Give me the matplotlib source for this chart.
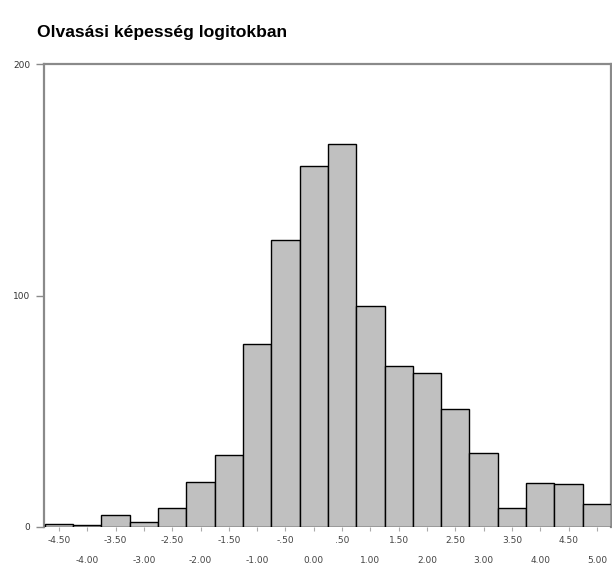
import matplotlib
matplotlib.use("Agg")
import matplotlib.pyplot as plt
import numpy as np

bin_centers = [-4.5, -4.0, -3.5, -3.0, -2.5, -2.0, -1.5, -1.0, -0.5, 0.0,
               0.5, 1.0, 1.5, 2.0, 2.5, 3.0, 3.5, 4.0, 4.5, 5.0]
counts = [1.3, 0.7, 5, 2, 8, 19.5, 31, 79, 124, 156,
          165.5, 95.5, 69.5, 66.5, 51, 32, 8, 19, 18.6, 10]
top_labels = ["-4.50", "-3.50", "-2.50", "-1.50", "-.50", ".50", "1.50", "2.50", "3.50", "4.50"]
bottom_labels = ["-4.00", "-3.00", "-2.00", "-1.00", "0.00", "1.00", "2.00", "3.00", "4.00", "5.00"]
y_ticks = [0, 100, 200]
y_ticklabels = ["0", "100", "200"]
title = "Olvasási képesség logitokban"

fig = plt.figure(figsize=(6.12, 5.69), dpi=100)
ax = fig.add_axes([44/612, 1-527/569, (611-44)/612, (527-64)/569])

ax.bar(bin_centers, counts, width=0.5, color="#c0c0c0", edgecolor="black",
       linewidth=1.0, zorder=3)
ax.set_xlim(-4.765, 5.25)
ax.set_ylim(0, 200)

for s in ["left", "top", "right"]:
    ax.spines[s].set_color("#8a8a8a")
    ax.spines[s].set_linewidth(1.6)
ax.spines["bottom"].set_visible(False)

ax.set_yticks(y_ticks)
ax.set_yticklabels(y_ticklabels, fontsize=6.5, color="#333333")
ax.tick_params(axis="y", length=6, width=1, color="#8a8a8a", pad=4)

ax.set_xticks(bin_centers)
ax.set_xticklabels([])
ax.tick_params(axis="x", length=3, width=0.8, color="#aaaaaa")

# two-row alternating labels
for i, x in enumerate(bin_centers):
    if i % 2 == 0:
        ax.text(x, -4, top_labels[i // 2], ha="center", va="top",
                fontsize=6.5, color="#444444", transform=ax.transData, clip_on=False)
    else:
        ax.text(x, -12.5, bottom_labels[i // 2], ha="center", va="top",
                fontsize=6.5, color="#444444", transform=ax.transData, clip_on=False)

fig.text(37/612, 1-33/569, title, fontsize=12.6, fontweight="bold",
         ha="left", va="center", family="Liberation Sans")

fig.savefig("out.png", dpi=100)
